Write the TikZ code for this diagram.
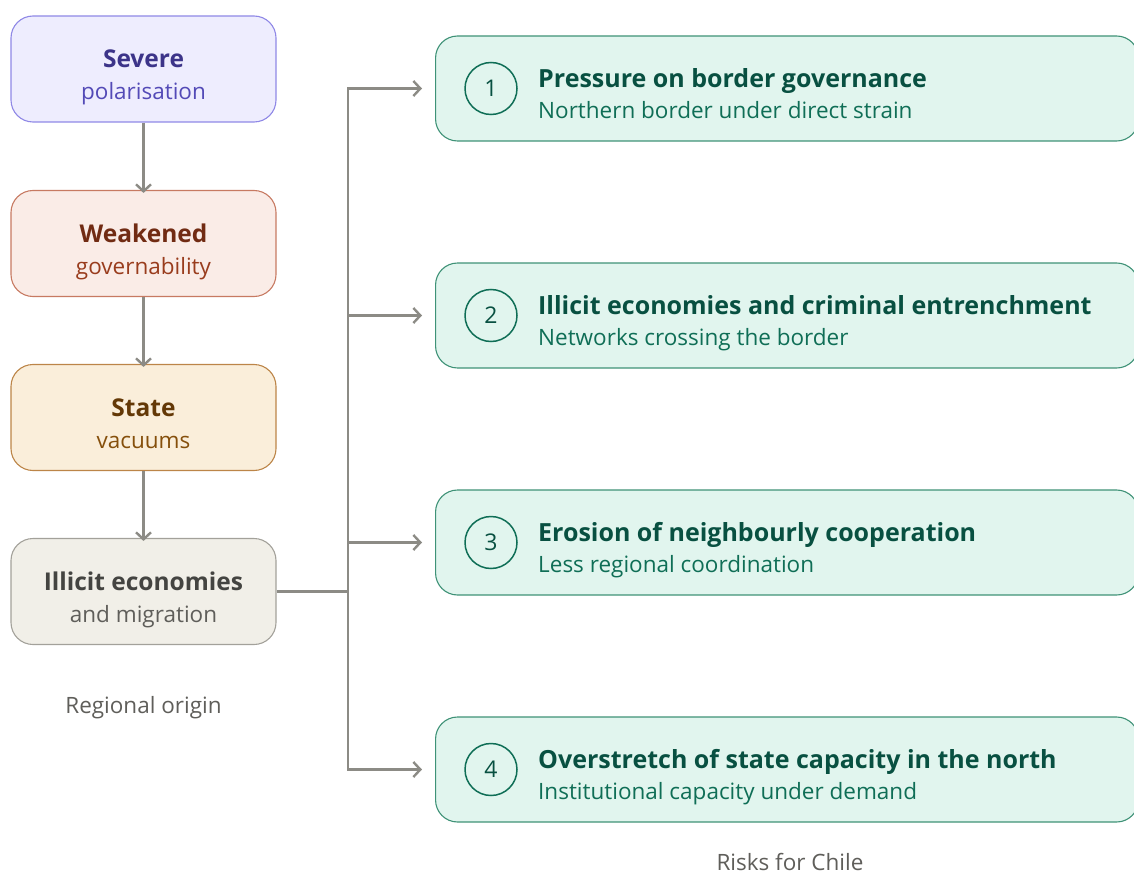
\documentclass[tikz,border=0pt]{standalone}
\usepackage{fontspec}
\setmainfont{Open Sans}
\usetikzlibrary{arrows.meta}

% palette
\definecolor{arrowgray}{HTML}{8C8B85}
\definecolor{captiongray}{HTML}{5F5E5A}
\definecolor{purpfill}{HTML}{EEEDFE}
\definecolor{purpline}{HTML}{8F88E6}
\definecolor{purptitle}{HTML}{3C3489}
\definecolor{purpsub}{HTML}{534AB7}
\definecolor{corfill}{HTML}{FAECE7}
\definecolor{corline}{HTML}{C77A62}
\definecolor{cortitle}{HTML}{712B13}
\definecolor{corsub}{HTML}{993C1D}
\definecolor{ambfill}{HTML}{FAEEDA}
\definecolor{ambline}{HTML}{BC8548}
\definecolor{ambtitle}{HTML}{633806}
\definecolor{ambsub}{HTML}{854F0B}
\definecolor{grayfill}{HTML}{F1EFE8}
\definecolor{grayline}{HTML}{A3A19A}
\definecolor{graytitle}{HTML}{444441}
\definecolor{graysub}{HTML}{5F5E5A}
\definecolor{riskfill}{HTML}{E1F5EE}
\definecolor{riskline}{HTML}{3F9277}
\definecolor{risktitle}{HTML}{085041}
\definecolor{risksub}{HTML}{0F6E56}

\tikzset{
  srcbox/.style={rounded corners=22pt, minimum width=265pt, minimum height=106pt,
    line width=1.1pt, inner sep=0pt},
  riskbox/.style={draw=riskline, fill=riskfill, rounded corners=22pt,
    minimum width=703pt, minimum height=105pt, line width=1.1pt, inner sep=0pt, anchor=west},
  srctitle/.style={anchor=base, inner sep=0pt, font=\fontsize{24.5}{28}\selectfont\bfseries},
  srcsub/.style={anchor=base, inner sep=0pt, font=\fontsize{22.5}{26}\selectfont},
  risktitle/.style={anchor=base west, inner sep=0pt, text=risktitle,
    font=\fontsize{25}{29}\selectfont\bfseries},
  risksub/.style={anchor=base west, inner sep=0pt, text=risksub,
    font=\fontsize{22.5}{26}\selectfont},
  badge/.style={circle, draw=risksub, line width=1.5pt, minimum size=52pt, inner sep=0pt,
    text=risktitle, font=\fontsize{23}{26}\selectfont},
  caption/.style={anchor=base, inner sep=0pt, text=captiongray,
    font=\fontsize{22.5}{26}\selectfont},
  flow/.style={draw=arrowgray, line width=2.4pt,
    -{Straight Barb[length=7pt,width=15pt,line width=2.4pt]}},
  link/.style={draw=arrowgray, line width=2.4pt},
}

\begin{document}
\begin{tikzpicture}[x=1pt,y=-1pt]
\useasboundingbox (0,0) rectangle (1134,877);

% regional origin chain
\node[srcbox, draw=purpline, fill=purpfill] (s1) at (143.5,69) {};
\node[srctitle, text=purptitle] (s1t) at (143.5,68) {Severe};
\node[srcsub, text=purpsub] (s1s) at (143.5,100) {polarisation};

\node[srcbox, draw=corline, fill=corfill] (s2) at (143.5,243.5) {};
\node[srctitle, text=cortitle] (s2t) at (143.5,242.5) {Weakened};
\node[srcsub, text=corsub] (s2s) at (143.5,274.5) {governability};

\node[srcbox, draw=ambline, fill=ambfill] (s3) at (143.5,417.5) {};
\node[srctitle, text=ambtitle] (s3t) at (143.5,416.5) {State};
\node[srcsub, text=ambsub] (s3s) at (143.5,448.5) {vacuums};

\node[srcbox, draw=grayline, fill=grayfill] (s4) at (143.5,591.5) {};
\node[srctitle, text=graytitle] (s4t) at (143.5,590.5) {Illicit economies};
\node[srcsub, text=graysub] (s4s) at (143.5,622.5) {and migration};

\node[caption] (origin) at (143.5,713) {Regional origin};

\draw[flow] (s1.south) -- ([yshift=-3pt]s2.north);
\draw[flow] (s2.south) -- ([yshift=-3pt]s3.north);
\draw[flow] (s3.south) -- ([yshift=-3pt]s4.north);

% risks for Chile
\foreach \i/\y/\t/\s in {
  1/88.5/{Pressure on border governance}/{Northern border under direct strain},
  2/315.5/{Illicit economies and criminal entrenchment}/{Networks crossing the border},
  3/542.5/{Erosion of neighbourly cooperation}/{Less regional coordination},
  4/769.5/{Overstretch of state capacity in the north}/{Institutional capacity under demand}}{
  \node[riskbox] (r\i) at (435,\y) {};
  \node[badge] (b\i) at (491,\y) {\i};
  \node[risktitle] (r\i t) at (538,\y-1) {\t};
  \node[risksub] (r\i s) at (538,\y+30) {\s};
}

\node[caption] (chile) at (790,870) {Risks for Chile};

% distribution trunk
\coordinate (jn) at (348,591.5);
\coordinate (top) at (348,88.5);
\coordinate (bot) at (348,769.5);
\draw[link] (s4.east) -- (jn);
\draw[link, line cap=rect] (top) -- (bot);
\foreach \i in {1,2,3,4}{
  \draw[flow] (top |- r\i.west) -- ([xshift=-13pt]r\i.west);
}
\end{tikzpicture}
\end{document}
